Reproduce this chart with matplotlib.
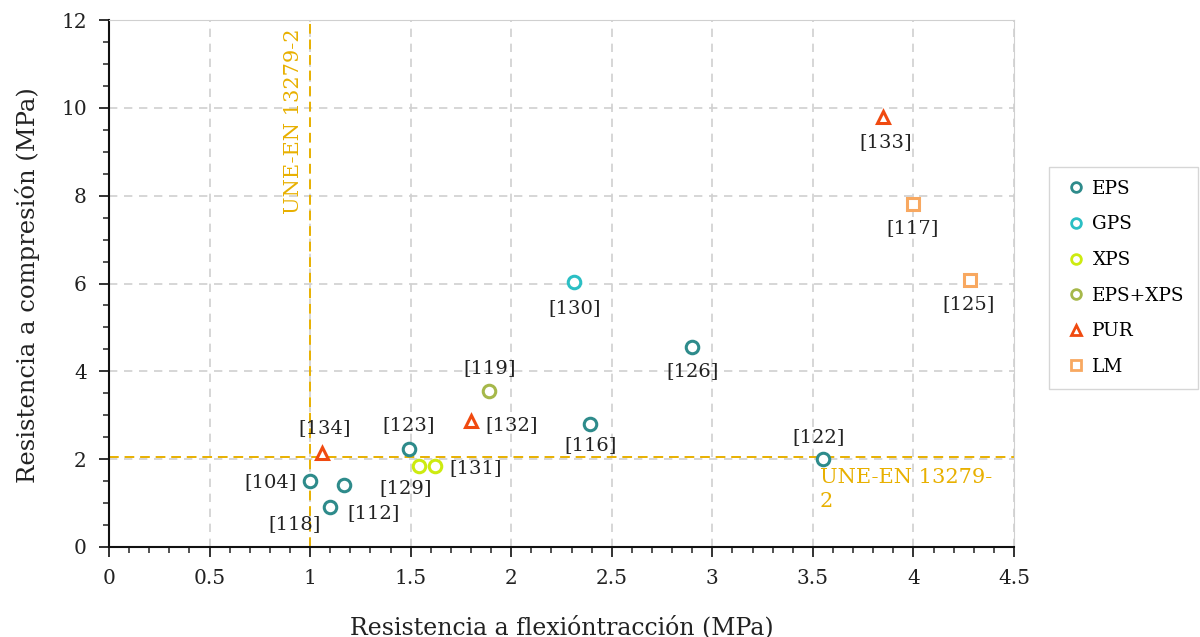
import matplotlib
matplotlib.use("Agg")
import matplotlib.pyplot as plt
from matplotlib.ticker import MultipleLocator

plt.rcParams['font.family'] = ['DejaVu Serif']

# ---- data ----
eps_x = [1.00, 1.17, 1.10, 1.49, 2.39, 2.90, 3.55]
eps_y = [1.50, 1.41, 0.91, 2.23, 2.80, 4.56, 2.00]
eps_lab = ["[104]", "[112]", "[118]", "[123]", "[116]", "[126]", "[122]"]

gps_x = [2.31]
gps_y = [6.04]
gps_lab = ["[130]"]

xps_x = [1.54, 1.62]
xps_y = [1.85, 1.85]
xps_lab = ["[129]", "[131]"]

epsxps_x = [1.89]
epsxps_y = [3.55]
epsxps_lab = ["[119]"]

pur_x = [1.06, 1.80, 3.85]
pur_y = [2.14, 2.87, 9.79]
pur_lab = ["[134]", "[132]", "[133]"]

lm_x = [4.00, 4.28]
lm_y = [7.81, 6.08]
lm_lab = ["[117]", "[125]"]

limit_x = 1.0
limit_y = 2.05

# label offsets in pixels (dx, dy up-positive)
offsets = {
    "[104]": (-40, -1), "[112]": (29, -28), "[118]": (-36, -17), "[123]": (0, 24),
    "[116]": (1, -21), "[126]": (0, -24), "[122]": (-4, 22), "[130]": (1, -26),
    "[129]": (-13, -22), "[131]": (41, -2), "[119]": (1, 23), "[134]": (2, 25),
    "[132]": (41, -4), "[133]": (2, -25), "[117]": (-1, -24), "[125]": (-1, -24),
}

fig = plt.figure(figsize=(12, 6.37), dpi=100)
ax = fig.add_axes([109/1200, 1-547/637, 905/1200, 527/637])

ax.set_xlim(0, 4.5)
ax.set_ylim(0, 12)
ax.xaxis.set_major_locator(MultipleLocator(0.5))
ax.xaxis.set_minor_locator(MultipleLocator(0.1))
ax.yaxis.set_major_locator(MultipleLocator(2))
ax.yaxis.set_minor_locator(MultipleLocator(0.5))
ax.set_xticks([0, 0.5, 1, 1.5, 2, 2.5, 3, 3.5, 4, 4.5])
ax.set_xticklabels(["0", "0.5", "1", "1.5", "2", "2.5", "3", "3.5", "4", "4.5"])
ax.tick_params(axis='both', which='major', direction='out', length=7, width=1.3,
               labelsize=14.5, colors='#222222', pad=9)
ax.tick_params(axis='both', which='minor', direction='out', length=4, width=1.1, colors='#222222')
ax.grid(True, which='major', linestyle=(0, (5, 4)), color='#d0d0d0', linewidth=1.2)
ax.set_axisbelow(True)
for s in ['top', 'right']:
    ax.spines[s].set_color('#d0d0d0')
for s in ['left', 'bottom']:
    ax.spines[s].set_color('#111111')
    ax.spines[s].set_linewidth(1.5)

line_c = '#E8B000'
ax.axhline(limit_y, color=line_c, linestyle=(0, (5, 3)), linewidth=1.4, zorder=2)
ax.axvline(limit_x, color=line_c, linestyle=(0, (5, 3)), linewidth=1.4, zorder=2)
ax.text(0.915, 11.8, "UNE-EN 13279-2", rotation=90, color=line_c, fontsize=15,
        ha='center', va='top')
ax.text(3.535, 1.8, "UNE-EN 13279-\n2", color=line_c, fontsize=15,
        ha='left', va='top', linespacing=1.35)

series = [
    (eps_x, eps_y, eps_lab, 'o', '#2E8B8B', 'EPS'),
    (gps_x, gps_y, gps_lab, 'o', '#2BBFC4', 'GPS'),
    (xps_x, xps_y, xps_lab, 'o', '#CDEB10', 'XPS'),
    (epsxps_x, epsxps_y, epsxps_lab, 'o', '#A6B84A', 'EPS+XPS'),
    (pur_x, pur_y, pur_lab, '^', '#F04A10', 'PUR'),
    (lm_x, lm_y, lm_lab, 's', '#F8A860', 'LM'),
]
for xs, ys, labs, m, c, name in series:
    ms = 9 if m == 'o' else (8 if m == '^' else 9)
    ax.plot(xs, ys, linestyle='none', marker=m, markersize=ms, markerfacecolor='white',
            markeredgecolor=c, markeredgewidth=2.2, label=name, zorder=4)
    for x, y, lab in zip(xs, ys, labs):
        dx, dy = offsets[lab]
        ax.annotate(lab, (x, y), xytext=(dx*0.72, dy*0.72), textcoords='offset points',
                    ha='center', va='center', fontsize=14, color='#222222', zorder=5)

leg = ax.legend(loc='upper left', bbox_to_anchor=((1049-109)/905, (547-167)/527), fontsize=13.3,
                frameon=True, fancybox=False, edgecolor='#cccccc', labelspacing=0.95,
                handletextpad=0.15, borderpad=0.7, handlelength=1.5, borderaxespad=0)
leg.get_frame().set_linewidth(1.0)
for h in leg.legend_handles:
    h.set_markersize(7)
    h.set_markeredgewidth(2)

fig.text(562/1200, 1-627/637, "Resistencia a flexióntracción (MPa)", fontsize=17,
         color='#222222', ha='center', va='center')
fig.text(28/1200, 1-285/637, "Resistencia a compresión (MPa)", fontsize=17.5,
         color='#222222', ha='center', va='center', rotation=90)

fig.savefig("out.png", dpi=100)
